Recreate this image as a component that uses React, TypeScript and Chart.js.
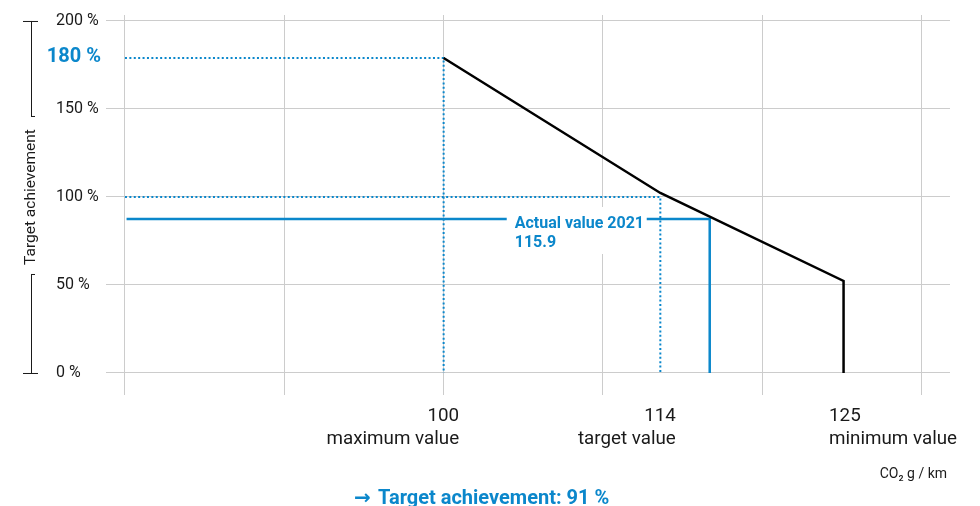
import React, { useEffect, useRef } from 'react';
import { Chart, registerables } from 'chart.js';

Chart.register(...registerables);

// ---- data ----
const gridX = [80, 90, 100, 110, 120, 130];
const yTickValues = [0, 50, 100, 150, 200];
const yTickLabels = ['0 %', '50 %', '100 %', '150 %', '200 %'];

const curveX = [100, 113.6, 125.1, 125.1];
const curveY = [179, 102.3, 52.3, 0];

const maxRefX = [80, 100, 100];
const maxRefY = [179, 179, 0];

const targetRefX = [80, 113.6, 113.6];
const targetRefY = [100, 100, 0];

const actualX = [80.1, 116.7, 116.7];
const actualY = [87.5, 87.5, 0];

const markerX = [100, 113.6, 125.1];
const markerNumbers = ['100', '114', '125'];
const markerNames = ['maximum value', 'target value', 'minimum value'];

const maxLabel = '180 %';
const actualTitle = 'Actual value 2021';
const actualValueLabel = '115.9';
const yTitle = 'Target achievement';
const unitLabel = 'CO₂ g / km';
const resultArrow = '→';
const resultLabel = 'Target achievement: 91 %';

const BLUE = '#0b87cb';
const INK = '#1a1a1a';
const GRID = '#cccccc';
const FONT = 'Roboto, "Noto Sans", sans-serif';

const pts = (xs: number[], ys: number[]) => xs.map((x, i) => ({ x, y: ys[i] }));

const annotations = {
  id: 'annotations',
  afterDatasetsDraw(chart: any) {
    const { ctx, scales, chartArea } = chart;
    const x = scales.x;
    const y = scales.y;
    ctx.save();

    // label box for actual value
    const ax = x.getPixelForValue(actualX[1]);
    const ay = y.getPixelForValue(actualY[1]);
    ctx.fillStyle = '#ffffff';
    ctx.fillRect(ax - 203, ay - 12, 140, 47);
    ctx.fillStyle = BLUE;
    ctx.font = `bold 16px ${FONT}`;
    ctx.textAlign = 'left';
    ctx.textBaseline = 'alphabetic';
    ctx.fillText(actualTitle, ax - 195, ay + 8.7);
    ctx.fillText(actualValueLabel, ax - 195, ay + 27.7);

    // 180 % label
    const my = y.getPixelForValue(maxRefY[0]);
    ctx.font = `bold 20px ${FONT}`;
    ctx.textAlign = 'right';
    ctx.textBaseline = 'middle';
    ctx.fillText(maxLabel, 101, my - 1);

    // x marker labels
    ctx.fillStyle = INK;
    ctx.font = `18.8px ${FONT}`;
    ctx.textBaseline = 'alphabetic';
    markerX.forEach((v, i) => {
      const px = x.getPixelForValue(v);
      const last = i === markerX.length - 1;
      ctx.textAlign = last ? 'left' : 'right';
      const tx = last ? px - 14.5 : px + 15.5;
      ctx.fillText(markerNumbers[i], tx, chartArea.bottom + 26);
      ctx.fillText(markerNames[i], tx, chartArea.bottom + 49);
    });

    // y title with bracket
    const yTop = y.getPixelForValue(200);
    const yBot = y.getPixelForValue(0);
    const yMid = (yTop + yBot) / 2;
    ctx.strokeStyle = INK;
    ctx.lineWidth = 1;
    ctx.beginPath();
    ctx.moveTo(23, yTop + 0.5); ctx.lineTo(38, yTop + 0.5);
    ctx.moveTo(31.5, yTop); ctx.lineTo(31.5, yMid - 80);
    ctx.moveTo(31, yMid - 80.5); ctx.lineTo(35, yMid - 80.5);
    ctx.moveTo(31, yMid + 77.5); ctx.lineTo(35, yMid + 77.5);
    ctx.moveTo(31.5, yMid + 77); ctx.lineTo(31.5, yBot);
    ctx.moveTo(23, yBot + 0.5); ctx.lineTo(38, yBot + 0.5);
    ctx.stroke();
    ctx.save();
    ctx.translate(31, yMid);
    ctx.rotate(-Math.PI / 2);
    ctx.font = `15.5px ${FONT}`;
    ctx.textAlign = 'center';
    ctx.textBaseline = 'middle';
    ctx.fillStyle = INK;
    ctx.fillText(yTitle, 0, 0);
    ctx.restore();

    // unit + result
    ctx.font = `14px ${FONT}`;
    ctx.textAlign = 'right';
    ctx.textBaseline = 'alphabetic';
    ctx.fillStyle = INK;
    ctx.fillText(unitLabel, 947, 478);

    ctx.fillStyle = BLUE;
    ctx.textAlign = 'left';
    ctx.font = 'bold 20px "DejaVu Sans", sans-serif';
    ctx.fillText(resultArrow, 354, 504);
    ctx.font = `bold 20px ${FONT}`;
    ctx.fillText(resultLabel, 378, 504);

    ctx.restore();
  },
};

export default function App() {
  const ref = useRef<HTMLCanvasElement | null>(null);

  useEffect(() => {
    if (!ref.current) return;
    const chart = new Chart(ref.current, {
      type: 'line',
      data: {
        datasets: [
          {
            data: pts(curveX, curveY),
            borderColor: '#000000',
            borderWidth: 2.5,
            pointRadius: 0,
            tension: 0,
            borderJoinStyle: 'miter',
          },
          {
            data: pts(actualX, actualY),
            borderColor: BLUE,
            borderWidth: 2.5,
            pointRadius: 0,
            tension: 0,
            borderJoinStyle: 'miter',
          },
          {
            data: pts(maxRefX, maxRefY),
            borderColor: BLUE,
            borderWidth: 2,
            borderDash: [2, 2.4],
            pointRadius: 0,
            tension: 0,
          },
          {
            data: pts(targetRefX, targetRefY),
            borderColor: BLUE,
            borderWidth: 2,
            borderDash: [2, 2.4],
            pointRadius: 0,
            tension: 0,
          },
        ],
      },
      options: {
        responsive: false,
        animation: false,
        devicePixelRatio: 1,
        layout: { padding: { left: 56, right: 30, top: 15, bottom: 111 } },
        plugins: {
          legend: { display: false },
          tooltip: { enabled: false },
        },
        scales: {
          x: {
            type: 'linear',
            min: 78.81,
            max: 131.78,
            afterBuildTicks: (s: any) => {
              s.ticks = gridX.map((v) => ({ value: v }));
            },
            ticks: { display: false },
            grid: { color: GRID, lineWidth: 1, drawTicks: false },
            border: { display: false },
          },
          y: {
            type: 'linear',
            min: -12.5,
            max: 203.4,
            afterBuildTicks: (s: any) => {
              s.ticks = yTickValues.map((v) => ({ value: v }));
            },
            afterFit: (s: any) => {
              s.width = 50;
            },
            ticks: {
              crossAlign: 'far',
              padding: 0,
              color: INK,
              font: { family: FONT, size: 16 },
              callback: (v: any) => {
                const i = yTickValues.indexOf(Number(v));
                return i >= 0 ? yTickLabels[i] : '';
              },
            },
            grid: { color: GRID, lineWidth: 1, drawTicks: false },
            border: { display: false },
          },
        },
      },
      plugins: [annotations],
    } as any);
    return () => chart.destroy();
  }, []);

  return (
    <div style={{ position: 'absolute', left: 0, top: 0, width: 980, height: 506, background: '#fff' }}>
      <canvas ref={ref} width={980} height={506} style={{ display: 'block' }} />
    </div>
  );
}
